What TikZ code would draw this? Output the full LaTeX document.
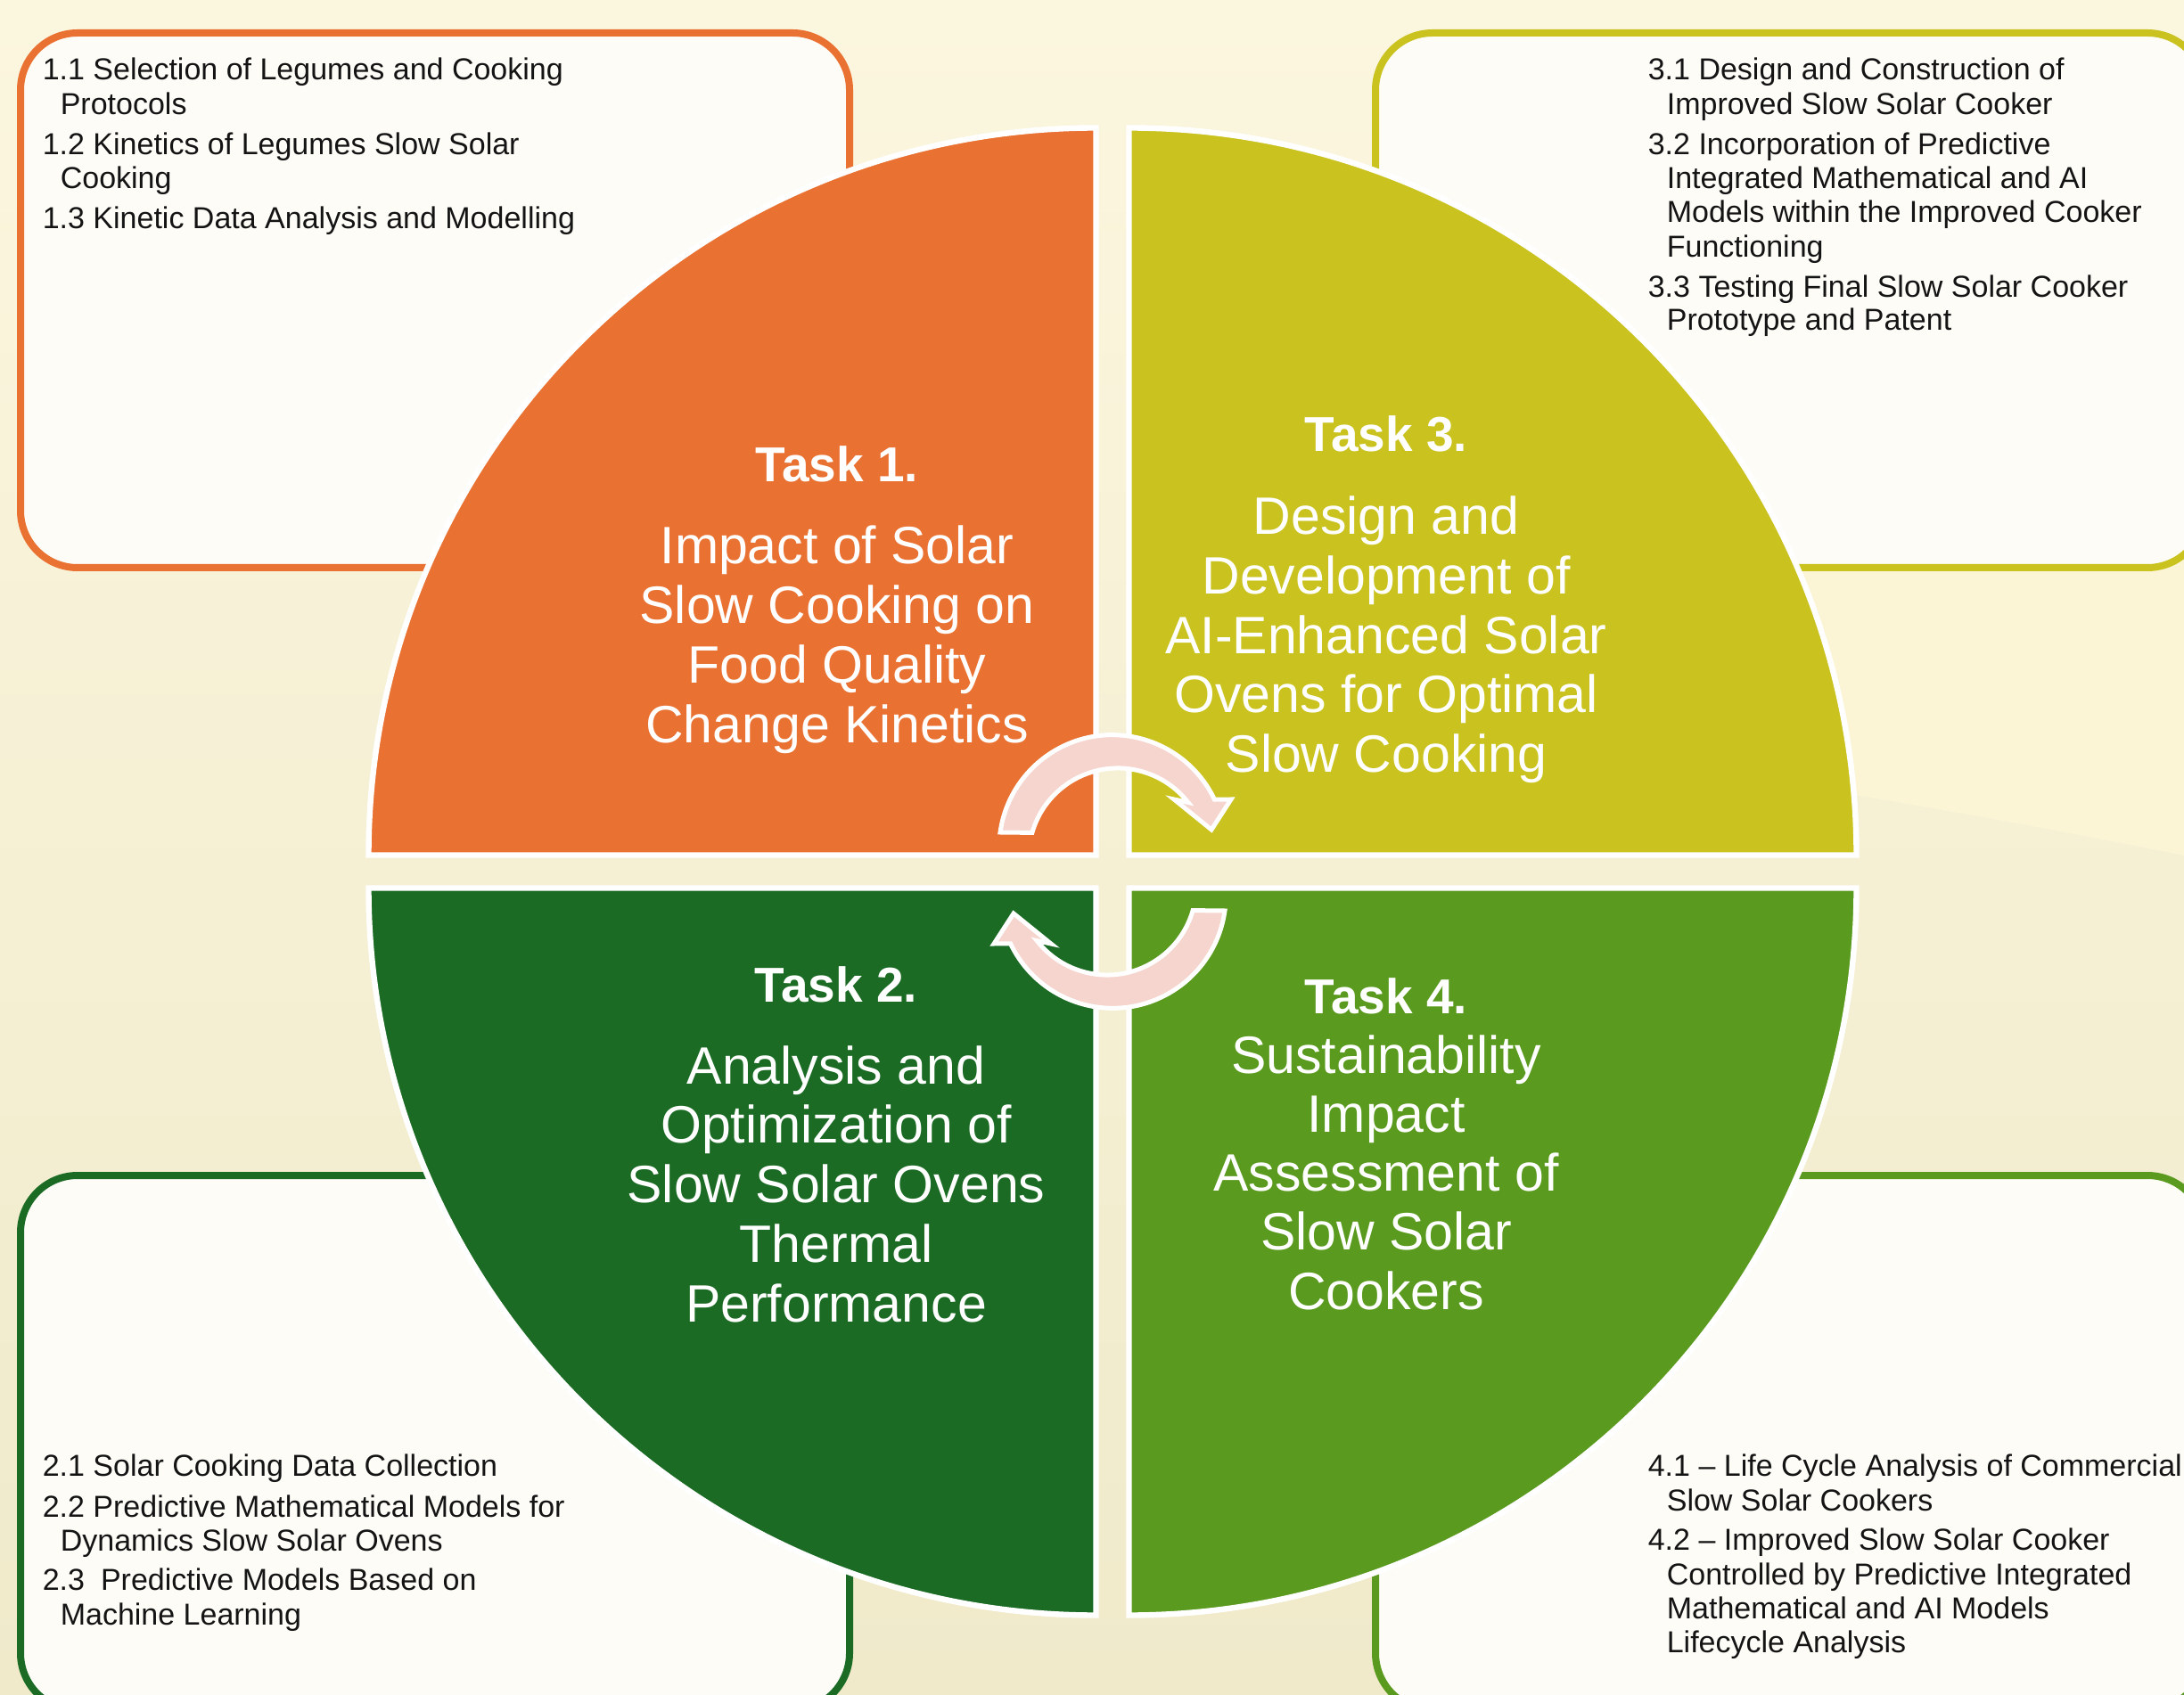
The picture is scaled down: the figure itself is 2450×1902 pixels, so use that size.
\documentclass[tikz,border=0pt]{standalone}
\usepackage{fontspec}
\setmainfont{Liberation Sans}
\definecolor{qorange}{HTML}{E97132}
\definecolor{qyellow}{HTML}{CAC21F}
\definecolor{qdark}{HTML}{1B6B24}
\definecolor{qlight}{HTML}{5A9A1E}
\definecolor{arrowpink}{HTML}{F7D5CF}
\definecolor{bgtop}{RGB}{251,246,222}
\definecolor{bgbot}{RGB}{240,234,203}
\definecolor{bglight}{RGB}{251,245,214}
\definecolor{boxfill}{RGB}{253,252,247}
\definecolor{ink}{RGB}{20,20,20}
\tikzset{
  quadrant/.style={draw=white, line width=1.6pt},
  infobox/.style={fill=boxfill, line width=2pt, rounded corners=16pt},
  cyclearrow/.style={fill=arrowpink, draw=white, line width=1.25pt, line join=miter},
  item/.style={anchor=base west, inner sep=0pt, text=ink, font=\fontsize{8.5}{10}\selectfont},
  qtitle/.style={anchor=base, inner sep=0pt, text=white, font=\bfseries\fontsize{13.75}{16}\selectfont},
  qbody/.style={anchor=base, inner sep=0pt, text=white, font=\fontsize{14.75}{17}\selectfont},
}
\begin{document}
\begin{tikzpicture}[x=0.25pt, y=-0.25pt]
\useasboundingbox (0,0) rectangle (2450,1902);
\clip (0,0) rectangle (2450,1902);
% background
\shade[top color=bgtop, bottom color=bgbot] (0,0) rectangle (2450,1902);
\fill[bglight] (1900,600) -- (2450,600) -- (2450,960) .. controls (2250,920) and (2050,885) .. (1900,865) -- cycle;

% corner boxes
\draw[infobox, draw=qorange] (23,37) rectangle (953,637);
\draw[infobox, draw=qyellow] (1543,37) rectangle (2473,637);
\draw[infobox, draw=qdark] (23,1319) rectangle (953,1919);
\draw[infobox, draw=qlight] (1543,1319) rectangle (2473,1919);

% quadrants
\draw[quadrant, fill=qorange] (1229.5,959.5) -- ++(0,-816) arc[start angle=270, end angle=180, radius=816] -- cycle;
\draw[quadrant, fill=qyellow] (1266.5,959.5) -- ++(0,-816) arc[start angle=-90, end angle=0, radius=816] -- cycle;
\draw[quadrant, fill=qdark] (1229.5,996.5) -- ++(0,816) arc[start angle=90, end angle=180, radius=816] -- cycle;
\draw[quadrant, fill=qlight] (1266.5,996.5) -- ++(0,816) arc[start angle=90, end angle=0, radius=816] -- cycle;

% cycle arrows
\draw[cyclearrow] (1122,934) arc[start angle=188, end angle=334.6, radius=127]
  -- (1381,897) -- (1359,931) -- (1317,897) -- (1332.8,900.4)
  arc[start angle=322, end angle=196, radius=100] -- cycle;
\begin{scope}[rotate around={180:(1248,978)}]
\draw[cyclearrow] (1122,934) arc[start angle=188, end angle=334.6, radius=127]
  -- (1381,897) -- (1359,931) -- (1317,897) -- (1332.8,900.4)
  arc[start angle=322, end angle=196, radius=100] -- cycle;
\end{scope}

% box 1
\node[item] (b11) at (47,90) {1.1 Selection of Legumes and Cooking};
\node[item] (b11c) at (67,129) {Protocols};
\node[item] (b12) at (47,174) {1.2 Kinetics of Legumes Slow Solar};
\node[item] (b12c) at (67,212) {Cooking};
\node[item] (b13) at (47,257) {1.3 Kinetic Data Analysis and Modelling};
% box 3
\node[item] (b31) at (1848,90) {3.1 Design and Construction of};
\node[item] (b31c) at (1869,129) {Improved Slow Solar Cooker};
\node[item] (b32) at (1848,174) {3.2 Incorporation of Predictive};
\node[item] (b32c) at (1869,212) {Integrated Mathematical and AI};
\node[item] (b32d) at (1869,250) {Models within the Improved Cooker};
\node[item] (b32e) at (1869,289) {Functioning};
\node[item] (b33) at (1848,334) {3.3 Testing Final Slow Solar Cooker};
\node[item] (b33c) at (1869,371) {Prototype and Patent};
% box 2
\node[item] (b21) at (47,1656) {2.1 Solar Cooking Data Collection};
\node[item] (b22) at (47,1702) {2.2 Predictive Mathematical Models for};
\node[item] (b22c) at (67,1740) {Dynamics Slow Solar Ovens};
\node[item] (b23) at (47,1784) {2.3\hspace{4.5pt}Predictive Models Based on};
\node[item] (b23c) at (67,1823) {Machine Learning};
% box 4
\node[item] (b41) at (1848,1656) {4.1 – Life Cycle Analysis of Commercial};
\node[item] (b41c) at (1869,1695) {Slow Solar Cookers};
\node[item] (b42) at (1848,1739) {4.2 – Improved Slow Solar Cooker};
\node[item] (b42c) at (1869,1778) {Controlled by Predictive Integrated};
\node[item] (b42d) at (1869,1816) {Mathematical and AI Models};
\node[item] (b42e) at (1869,1854) {Lifecycle Analysis};

% quadrant texts
\node[qtitle] (t1) at (939,541) {Task 1.};
\foreach \txt [count=\i] in {Impact of Solar,Slow Cooking on,Food Quality,Change Kinetics}
  \node[qbody] (t1l\i) at (939,{633+66.7*(\i-1)}) {\txt};
\node[qtitle] (t3) at (1555,507) {Task 3.};
\foreach \txt [count=\i] in {Design and,Development of,AI-Enhanced Solar,Ovens for Optimal,Slow Cooking}
  \node[qbody] (t3l\i) at (1555,{600+66.6*(\i-1)}) {\txt};
\node[qtitle] (t2) at (938,1124) {Task 2.};
\foreach \txt [count=\i] in {Analysis and,Optimization of,Slow Solar Ovens,Thermal,Performance}
  \node[qbody] (t2l\i) at (938,{1216+66.75*(\i-1)}) {\txt};
\node[qtitle] (t4) at (1555,1137) {Task 4.};
\foreach \txt [count=\i] in {Sustainability,Impact,Assessment of,Slow Solar,Cookers}
  \node[qbody] (t4l\i) at (1555,{1204+66.3*(\i-1)}) {\txt};
\end{tikzpicture}
\end{document}
